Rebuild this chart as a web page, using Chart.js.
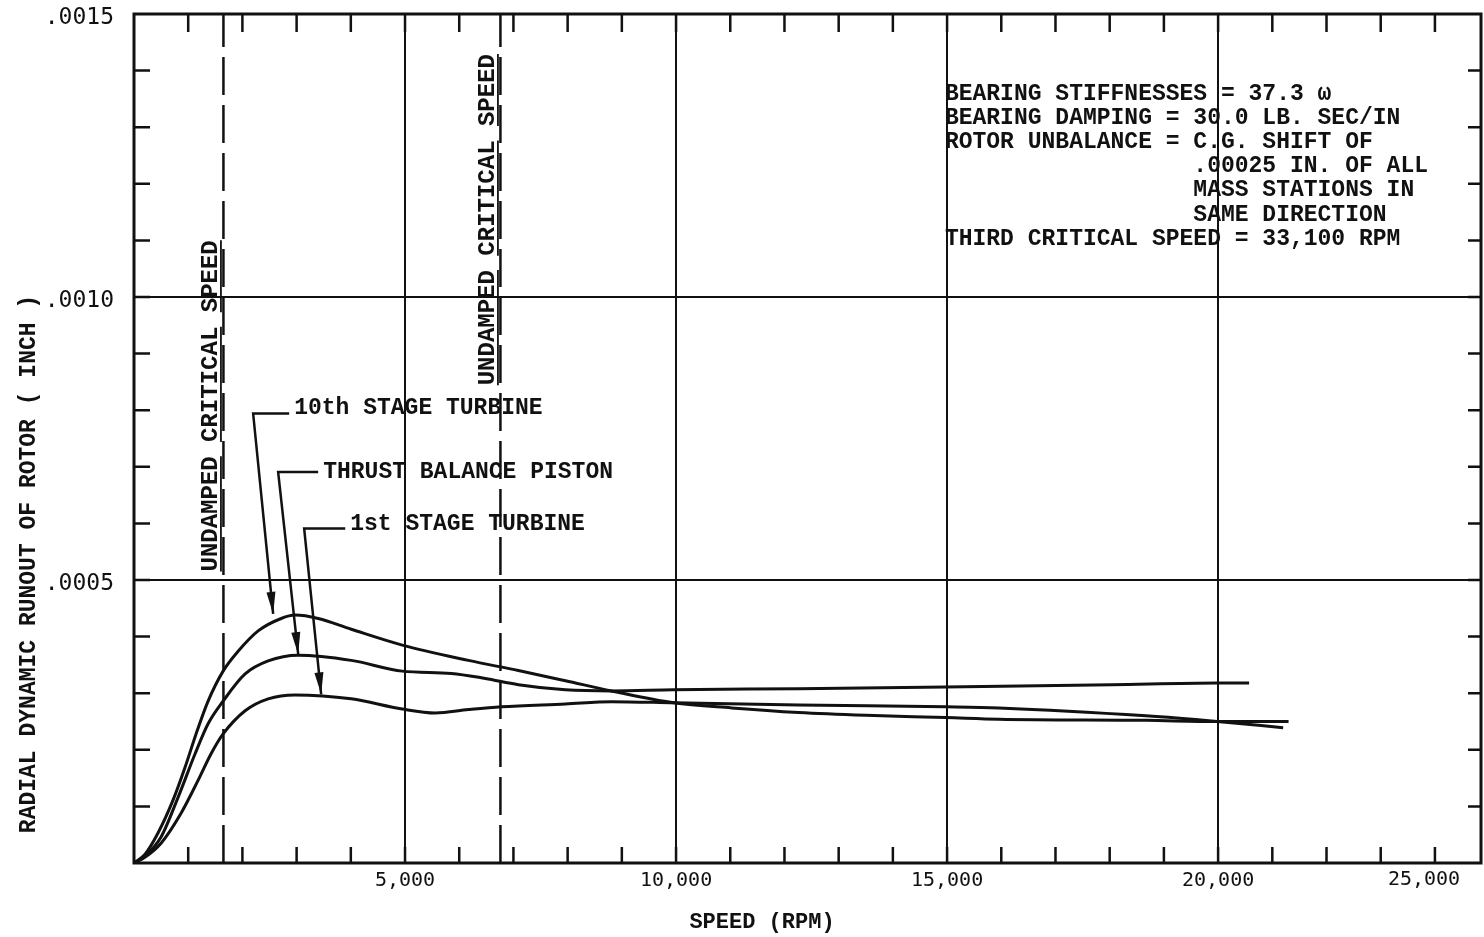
<!DOCTYPE html>
<html><head><meta charset="utf-8">
<script src="https://cdn.jsdelivr.net/npm/chart.js@4.4.1/dist/chart.umd.min.js"></script>
<style>html,body{margin:0;padding:0;background:#fff;}canvas{display:block;}</style>
</head><body>
<canvas id="c" width="1484" height="937"></canvas>
<script>
// ---- data (speed in RPM, radial runout in inches) ----
const rpm10thStage = [0, 200, 443, 720, 942, 1145, 1367, 1644, 1921, 2290, 2715, 2973, 3398, 4007, 4949, 6168, 7091, 7959, 8809, 9954, 11025, 12262, 13500, 14977, 15956, 18670, 19982, 21300];
const run10thStage = [0, 0.000015, 0.000053, 0.000111, 0.000169, 0.000228, 0.000286, 0.000339, 0.000374, 0.000410, 0.000432, 0.000438, 0.000432, 0.000413, 0.000385, 0.000358, 0.000340, 0.000322, 0.000304, 0.000283, 0.000274, 0.000266, 0.000261, 0.000257, 0.000254, 0.000252, 0.000250, 0.000250];

const rpmThrust = [0, 200, 499, 813, 1127, 1367, 1644, 2050, 2475, 3029, 4007, 4949, 5854, 6482, 7091, 7959, 8809, 9954, 12262, 14977, 18043, 19982, 20572];
const runThrust = [0, 0.000012, 0.000046, 0.000116, 0.000193, 0.000246, 0.000286, 0.000334, 0.000357, 0.000367, 0.000358, 0.000339, 0.000335, 0.000326, 0.000315, 0.000306, 0.000304, 0.000306, 0.000308, 0.000311, 0.000315, 0.000318, 0.000318];

const rpm1stStage = [0, 200, 499, 868, 1182, 1422, 1644, 2050, 2475, 2973, 4007, 4949, 5559, 6168, 6778, 7959, 8809, 9954, 12262, 14977, 15956, 18670, 19982, 21200];
const run1stStage = [0, 0.000010, 0.000035, 0.000088, 0.000146, 0.000193, 0.000228, 0.000269, 0.000290, 0.000297, 0.000290, 0.000272, 0.000265, 0.000271, 0.000276, 0.000281, 0.000285, 0.000283, 0.000279, 0.000276, 0.000274, 0.000260, 0.000250, 0.000239];

const criticalSpeeds = [1650, 6760];
const xTickValues = [0, 1000, 2000, 3000, 4000, 5000, 6000, 7000, 8000, 9000, 10000, 11000, 12000, 13000, 14000, 15000, 16000, 17000, 18000, 19000, 20000, 21000, 22000, 23000, 24000];
const xTickLabels = [5000, 10000, 15000, 20000, 25000];
const yTickValues = [0, 0.0001, 0.0002, 0.0003, 0.0004, 0.0005, 0.0006, 0.0007, 0.0008, 0.0009, 0.0010, 0.0011, 0.0012, 0.0013, 0.0014, 0.0015];
const yTickLabels = [0.0005, 0.0010, 0.0015];
const seriesNames = ["10th STAGE TURBINE", "THRUST BALANCE PISTON", "1st STAGE TURBINE"];
// label anchors (rpm, inch): text start, leader bend, arrow tip
const labelText = [[2955, 0.000803], [3490, 0.000691], [3989, 0.000599]];
const labelBend = [[2198, 0.000794], [2659, 0.000691], [3139, 0.000591]];
const labelTip  = [[2567, 0.000440], [3029, 0.000369], [3453, 0.000298]];
const critLabelStart = [0.000515, 0.000844];
const noteLines = ["BEARING STIFFNESSES = 37.3 \u03c9", "BEARING DAMPING = 30.0 LB. SEC/IN", "ROTOR UNBALANCE = C.G. SHIFT OF", "                  .00025 IN. OF ALL", "                  MASS STATIONS IN", "                  SAME DIRECTION", "THIRD CRITICAL SPEED = 33,100 RPM"];
const noteAnchor = [14960, 0.001359];

const toXY = (xs, ys) => xs.map((x, i) => ({x: x, y: ys[i]}));
const INK = '#111';
const TYPE = 'bold 23px "Liberation Mono", "Courier New", monospace';

const overlay = {
  id: 'overlay',
  afterDatasetsDraw(chart) {
    const ctx = chart.ctx, a = chart.chartArea;
    const xs = chart.scales.x, ys = chart.scales.y;
    ctx.save();
    ctx.strokeStyle = INK; ctx.fillStyle = INK;
    // frame
    ctx.lineWidth = 3;
    ctx.strokeRect(a.left, a.top, a.right - a.left, a.bottom - a.top);
    // inward ticks
    ctx.lineWidth = 2.5;
    ctx.beginPath();
    xs.ticks.forEach(t => {
      const p = xs.getPixelForValue(t.value);
      if (p <= a.left + 1 || p >= a.right - 1) return;
      ctx.moveTo(p, a.bottom); ctx.lineTo(p, a.bottom - 16);
      ctx.moveTo(p, a.top); ctx.lineTo(p, a.top + 18);
    });
    ys.ticks.forEach(t => {
      const p = ys.getPixelForValue(t.value);
      if (p <= a.top + 1 || p >= a.bottom - 1) return;
      ctx.moveTo(a.left, p); ctx.lineTo(a.left + 16, p);
      ctx.moveTo(a.right, p); ctx.lineTo(a.right - 13, p);
    });
    ctx.stroke();
    // critical speed dashed lines + rotated labels
    ctx.font = 'bold 24px "Liberation Mono", "Courier New", monospace';
    criticalSpeeds.forEach((s, i) => {
      const px = xs.getPixelForValue(s);
      ctx.save();
      ctx.setLineDash([38, 10]);
      ctx.lineWidth = 2.5;
      ctx.beginPath(); ctx.moveTo(px, a.bottom); ctx.lineTo(px, a.top); ctx.stroke();
      ctx.restore();
      const py = ys.getPixelForValue(critLabelStart[i]);
      ctx.save();
      ctx.translate(px - 6, py);
      ctx.rotate(-Math.PI / 2);
      ctx.textAlign = 'left'; ctx.textBaseline = 'alphabetic';
      const txt = 'UNDAMPED CRITICAL SPEED';
      ctx.fillText(txt, 0, 0);
      const cw = ctx.measureText('M').width;
      ctx.lineWidth = 1.8;
      let pos = 0;
      txt.split(' ').forEach(w => {
        ctx.beginPath(); ctx.moveTo(pos * cw, 3.5); ctx.lineTo((pos + w.length) * cw, 3.5); ctx.stroke();
        pos += w.length + 1;
      });
      ctx.restore();
    });
    // series labels with leaders and arrows
    ctx.font = TYPE;
    ctx.textAlign = 'left'; ctx.textBaseline = 'middle';
    seriesNames.forEach((n, i) => {
      const tx = xs.getPixelForValue(labelText[i][0]), ty = ys.getPixelForValue(labelText[i][1]);
      ctx.fillText(n, tx, ty);
      const bx = xs.getPixelForValue(labelBend[i][0]), by = ys.getPixelForValue(labelBend[i][1]);
      const hx = tx - 5;
      const ex = xs.getPixelForValue(labelTip[i][0]), ey = ys.getPixelForValue(labelTip[i][1]);
      ctx.lineWidth = 2.5;
      ctx.beginPath(); ctx.moveTo(hx, by); ctx.lineTo(bx, by); ctx.lineTo(ex, ey); ctx.stroke();
      const ang = Math.atan2(ey - by, ex - bx);
      const L = 22, W = 4.5;
      ctx.beginPath();
      ctx.moveTo(ex, ey);
      ctx.lineTo(ex - L * Math.cos(ang) + W * Math.sin(ang), ey - L * Math.sin(ang) - W * Math.cos(ang));
      ctx.lineTo(ex - L * Math.cos(ang) - W * Math.sin(ang), ey - L * Math.sin(ang) + W * Math.cos(ang));
      ctx.closePath(); ctx.fill();
    });
    // notes block
    const nx = xs.getPixelForValue(noteAnchor[0]), ny = ys.getPixelForValue(noteAnchor[1]);
    noteLines.forEach((l, i) => ctx.fillText(l, nx, ny + i * 24.2));
    // last x tick label lies past the frame edge: pulled inside
    ctx.font = '20px "DejaVu Sans Mono", monospace';
    ctx.textAlign = 'center'; ctx.textBaseline = 'middle';
    const last = xTickLabels[xTickLabels.length - 1];
    const lx = Math.min(xs.getPixelForValue(last), a.right - 57);
    ctx.fillText(last.toLocaleString('en-US'), lx, a.bottom + 17);
    // axis titles
    ctx.font = 'bold 22px "Liberation Mono", "Courier New", monospace';
    ctx.textAlign = 'center'; ctx.textBaseline = 'middle';
    ctx.fillText('SPEED (RPM)', 762, 922);
    ctx.save();
    ctx.translate(29, 564);
    ctx.rotate(-Math.PI / 2);
    ctx.font = 'bold 23px "Liberation Mono", "Courier New", monospace';
    ctx.fillText('RADIAL DYNAMIC RUNOUT OF ROTOR ( INCH )', 0, 0);
    ctx.restore();
    ctx.restore();
  }
};

const ds = (label, xs, ys) => ({
  label: label, data: toXY(xs, ys), borderColor: INK, borderWidth: 3,
  pointRadius: 0, fill: false, cubicInterpolationMode: 'monotone', tension: 0.4
});

const zeroPad = s => { s.paddingTop = 0; s.paddingBottom = 0; s.paddingLeft = 0; s.paddingRight = 0; };

new Chart(document.getElementById('c'), {
  type: 'line',
  data: { datasets: [
    ds(seriesNames[0], rpm10thStage, run10thStage),
    ds(seriesNames[1], rpmThrust, runThrust),
    ds(seriesNames[2], rpm1stStage, run1stStage)
  ]},
  options: {
    responsive: false, animation: false, devicePixelRatio: 1,
    layout: { padding: { left: 0, right: 3, top: 14, bottom: 0 } },
    plugins: { legend: { display: false }, tooltip: { enabled: false } },
    scales: {
      x: {
        type: 'linear', min: 0, max: 24850,
        afterBuildTicks: s => { s.ticks = xTickValues.map(v => ({ value: v })); },
        afterFit: s => { s.height = 74; zeroPad(s); },
        border: { display: false },
        grid: {
          drawTicks: false,
          color: c => (c.tick && c.tick.value > 0 && c.tick.value % 5000 === 0) ? INK : 'rgba(0,0,0,0)',
          lineWidth: 2
        },
        ticks: {
          autoSkip: false, maxRotation: 0, minRotation: 0, padding: 6,
          color: INK, font: { family: '"DejaVu Sans Mono", monospace', size: 20 },
          callback: v => xTickLabels.includes(v) ? v.toLocaleString('en-US') : ''
        }
      },
      y: {
        type: 'linear', min: 0, max: 0.0015,
        afterBuildTicks: s => { s.ticks = yTickValues.map(v => ({ value: v })); },
        afterFit: s => { s.width = 134; zeroPad(s); },
        border: { display: false },
        grid: {
          drawTicks: false,
          color: c => {
            const k = c.tick ? Math.round(c.tick.value * 10000) : 0;
            return (k === 5 || k === 10) ? INK : 'rgba(0,0,0,0)';
          },
          lineWidth: 2
        },
        ticks: {
          autoSkip: false, padding: 20, labelOffset: 4,
          color: INK, font: { family: '"DejaVu Sans Mono", monospace', size: 23 },
          callback: v => {
            const k = Math.round(v * 10000);
            const m = yTickLabels.find(t => Math.round(t * 10000) === k);
            return m ? m.toFixed(4).replace(/^0/, '') : '';
          }
        }
      }
    }
  },
  plugins: [overlay]
});
</script>
</body></html>
